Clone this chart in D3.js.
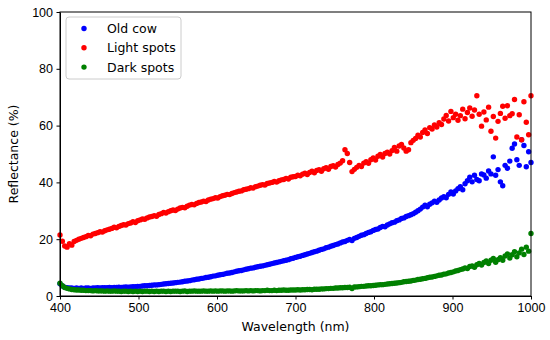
<html>
<head>
  <meta charset="utf-8">
  <style type="text/css">
    body { margin: 0; background: #fff; }
    svg { font-family: "DejaVu Sans", sans-serif; }
    .axis text { font-size: 12.5px; fill: #000; }
    .axis path, .axis line { stroke: #000; stroke-width: 1; }
  </style>
</head>
<body>
<script src="https://d3js.org/d3.v7.min.js"></script>
<script>
  // wavelength grid: 400 to 1000 nm every 3 nm
  var wavelengths = d3.range(400, 1001, 3);

  var oldCow = [
    4.3, 3.5, 3.1, 2.9, 2.8, 2.8, 2.7, 2.8, 2.7, 2.8,
    2.7, 2.8, 2.8, 2.7, 2.8, 2.8, 2.9, 2.8, 2.9, 2.9,
    2.9, 3.0, 2.9, 3.0, 3.0, 3.1, 3.0, 3.1, 3.2, 3.1,
    3.2, 3.3, 3.3, 3.4, 3.4, 3.5, 3.6, 3.6, 3.7, 3.8,
    3.9, 3.9, 4.0, 4.1, 4.2, 4.3, 4.4, 4.5, 4.6, 4.7,
    4.8, 4.9, 5.0, 5.2, 5.3, 5.4, 5.6, 5.7, 5.9, 6.0,
    6.2, 6.3, 6.5, 6.6, 6.8, 7.0, 7.1, 7.3, 7.5, 7.6,
    7.8, 8.0, 8.1, 8.3, 8.5, 8.7, 8.9, 9.0, 9.2, 9.4,
    9.6, 9.8, 9.9, 10.1, 10.3, 10.5, 10.6, 10.8, 11.0, 11.2,
    11.4, 11.6, 11.8, 12.0, 12.2, 12.4, 12.6, 12.8, 13.1, 13.3,
    13.6, 13.8, 14.0, 14.3, 14.5, 14.8, 15.0, 15.3, 15.6, 15.8,
    16.1, 16.4, 16.6, 17.0, 17.2, 17.5, 17.8, 18.1, 18.3, 18.7,
    19.0, 19.2, 19.6, 19.9, 19.5, 20.3, 20.6, 21.0, 21.4, 21.6,
    22.0, 22.4, 22.6, 23.1, 23.4, 23.6, 24.1, 24.5, 24.4, 25.0,
    25.4, 25.8, 26.0, 26.5, 26.8, 27.3, 27.5, 28.0, 28.3, 28.6,
    29.0, 29.5, 30.0, 30.6, 31.3, 32.0, 31.4, 32.3, 32.8, 33.4,
    33.0, 33.8, 34.5, 35.0, 34.6, 35.8, 36.6, 35.9, 37.0, 37.8,
    38.5, 37.4, 39.5, 40.6, 41.8, 40.2, 42.5, 41.0, 40.6, 43.0,
    42.6, 41.5, 44.0, 43.0, 49.0, 42.5, 44.5, 40.2, 38.8, 46.0,
    45.0, 47.5, 52.0, 53.5, 48.0, 46.0, 55.0, 53.0, 45.5, 50.8,
    47.0
  ];

  var lightSpots = [
    21.5, 19.3, 17.6, 17.2, 18.4, 17.9, 19.2, 19.6, 20.0, 20.3,
    20.6, 20.9, 21.3, 21.2, 21.8, 22.0, 22.3, 22.6, 22.5, 23.0,
    23.3, 23.5, 23.8, 24.2, 24.0, 24.5, 24.8, 25.1, 25.0, 25.5,
    25.7, 26.2, 25.9, 26.5, 26.8, 27.1, 27.0, 27.5, 27.8, 28.0,
    28.3, 28.1, 28.7, 29.0, 29.4, 29.2, 29.7, 30.0, 30.3, 30.1,
    30.6, 31.0, 31.2, 31.1, 31.6, 32.0, 32.2, 32.1, 32.6, 32.9,
    33.1, 33.4, 33.3, 33.8, 34.1, 34.3, 34.6, 34.5, 35.0, 35.3,
    35.5, 35.8, 35.7, 36.1, 36.4, 36.6, 36.9, 37.0, 37.4, 37.6,
    37.8, 38.1, 38.0, 38.5, 38.7, 39.0, 39.2, 39.1, 39.6, 39.8,
    40.0, 40.3, 40.1, 40.6, 40.9, 41.0, 41.4, 41.2, 41.8, 42.0,
    42.1, 42.5, 42.3, 42.9, 43.2, 42.8, 43.5, 43.9, 43.4, 44.2,
    44.5, 43.9, 44.8, 45.2, 44.6, 45.6, 45.9, 45.4, 46.3, 46.8,
    47.6, 51.5, 50.2, 47.0, 43.8, 44.6, 45.3, 46.0, 45.6, 46.8,
    47.3, 46.7, 48.0, 48.6, 47.9, 49.2, 49.8, 48.9, 50.2, 50.6,
    50.0, 51.2, 52.3, 51.0, 52.8, 53.4, 52.1, 51.0, 51.5, 54.0,
    54.8, 55.5, 56.6, 56.0, 57.6, 58.5, 57.2, 59.3, 58.8, 60.2,
    59.5, 61.0, 60.4, 62.3, 63.6, 61.6, 65.0, 62.8, 64.0, 61.9,
    63.5, 65.8, 62.4, 64.6, 66.2, 63.3, 65.5, 70.5, 64.0, 59.8,
    64.8, 62.0, 66.5, 58.0, 63.2, 55.6, 61.5, 64.3, 66.8, 62.6,
    67.0, 63.5, 64.2, 69.2, 56.0, 63.8, 55.0, 68.4, 61.2, 56.8,
    70.5
  ];

  var darkSpots = [
    4.5, 3.6, 3.0, 2.7, 2.5, 2.3, 2.2, 2.1, 2.1, 2.0,
    2.0, 1.9, 1.9, 1.9, 1.8, 1.9, 1.8, 1.8, 1.8, 1.7,
    1.8, 1.7, 1.7, 1.8, 1.7, 1.7, 1.6, 1.7, 1.7, 1.6,
    1.7, 1.6, 1.7, 1.6, 1.7, 1.6, 1.7, 1.7, 1.6, 1.7,
    1.6, 1.7, 1.6, 1.7, 1.7, 1.6, 1.7, 1.6, 1.7, 1.7,
    1.7, 1.6, 1.7, 1.8, 1.6, 1.7, 1.7, 1.8, 1.7, 1.7,
    1.7, 1.8, 1.7, 1.7, 1.8, 1.7, 1.8, 1.7, 1.8, 1.8,
    1.7, 1.8, 1.8, 1.7, 1.8, 1.9, 1.8, 1.8, 1.8, 1.9,
    1.8, 1.9, 1.8, 1.9, 1.9, 1.8, 1.9, 1.9, 2.0, 1.9,
    1.9, 2.0, 1.9, 2.0, 2.0, 2.1, 2.0, 2.0, 2.1, 2.1,
    2.1, 2.2, 2.1, 2.2, 2.2, 2.3, 2.3, 2.2, 2.4, 2.4,
    2.4, 2.5, 2.5, 2.6, 2.6, 2.7, 2.7, 2.8, 2.8, 2.9,
    2.9, 3.0, 3.0, 3.1, 2.6, 3.2, 3.2, 3.3, 3.4, 3.4,
    3.5, 3.6, 3.6, 3.7, 3.8, 3.9, 4.0, 4.0, 4.1, 4.2,
    4.3, 4.4, 4.5, 4.6, 4.7, 4.8, 5.0, 5.1, 5.2, 5.3,
    5.5, 5.6, 5.8, 5.9, 6.1, 6.2, 6.4, 6.6, 6.7, 6.9,
    7.1, 7.3, 7.4, 7.7, 7.8, 8.1, 8.3, 8.5, 8.8, 9.0,
    9.3, 9.5, 9.9, 9.7, 10.4, 10.6, 10.1, 11.0, 11.5, 10.9,
    11.8, 12.3, 11.4, 12.6, 13.2, 11.9, 12.8, 13.5, 12.6, 14.1,
    14.8, 13.4, 14.5, 15.6, 13.8, 15.2, 16.5, 14.6, 17.2, 15.8,
    22.0
  ];

  var seriesNames = ["Old cow", "Light spots", "Dark spots"];
  var seriesColors = ["#0000ff", "#ff0000", "#008000"];
  var xTicks = [400, 500, 600, 700, 800, 900, 1000];
  var yTicks = [0, 20, 40, 60, 80, 100];

  var margin = { top: 12, right: 19, bottom: 44, left: 60 }
    , width = 550 - margin.left - margin.right
    , height = 340 - margin.top - margin.bottom;

  var xScale = d3.scaleLinear().domain([400, 1000]).range([0, width]);
  var yScale = d3.scaleLinear().domain([0, 100]).range([height, 0]);

  var svg = d3.select("body").append("svg")
    .attr("width", 550)
    .attr("height", 340)
    .append("g")
    .attr("transform", "translate(" + margin.left + "," + margin.top + ")");

  var allSeries = [oldCow, lightSpots, darkSpots];
  allSeries.forEach(function (vals, s) {
    var pts = wavelengths.map(function (w, i) { return { x: w, y: vals[i] }; });
    svg.append("g").selectAll("circle")
      .data(pts)
      .enter()
      .append("circle")
      .attr("cx", function (d) { return xScale(d.x); })
      .attr("cy", function (d) { return yScale(d.y); })
      .attr("r", 2.7)
      .attr("fill", seriesColors[s]);
  });

  svg.append("g")
    .attr("class", "x axis")
    .attr("transform", "translate(0," + height + ")")
    .call(d3.axisBottom(xScale).tickValues(xTicks).tickFormat(d3.format("d"))
      .tickSizeInner(3.5).tickSizeOuter(0).tickPadding(3.5));

  svg.append("g")
    .attr("class", "y axis")
    .call(d3.axisLeft(yScale).tickValues(yTicks).tickFormat(d3.format("d"))
      .tickSizeInner(3.5).tickSizeOuter(0).tickPadding(3.5));

  // frame (top and right spines)
  svg.append("rect")
    .attr("x", 0).attr("y", 0)
    .attr("width", width).attr("height", height)
    .attr("fill", "none").attr("stroke", "#000").attr("stroke-width", 1);

  svg.append("text")
    .attr("x", width / 2)
    .attr("y", height + 35)
    .attr("text-anchor", "middle")
    .style("font-size", "12.5px")
    .text("Wavelength (nm)");

  svg.append("text")
    .attr("transform", "translate(" + (-42) + "," + (height / 2) + ") rotate(-90)")
    .attr("text-anchor", "middle")
    .style("font-size", "12.5px")
    .text("Reflectance (%)");

  // legend
  var legend = svg.append("g").attr("transform", "translate(6,5)");
  legend.append("rect")
    .attr("width", 115).attr("height", 62).attr("rx", 3)
    .attr("fill", "#fff").attr("fill-opacity", 0.8)
    .attr("stroke", "#cccccc").attr("stroke-width", 1);
  seriesNames.forEach(function (name, i) {
    legend.append("circle")
      .attr("cx", 18).attr("cy", 11.5 + i * 19.3)
      .attr("r", 2.7).attr("fill", seriesColors[i]);
    legend.append("text")
      .attr("x", 41).attr("y", 16 + i * 19.3)
      .style("font-size", "12.5px")
      .text(name);
  });
</script>
</body>
</html>
